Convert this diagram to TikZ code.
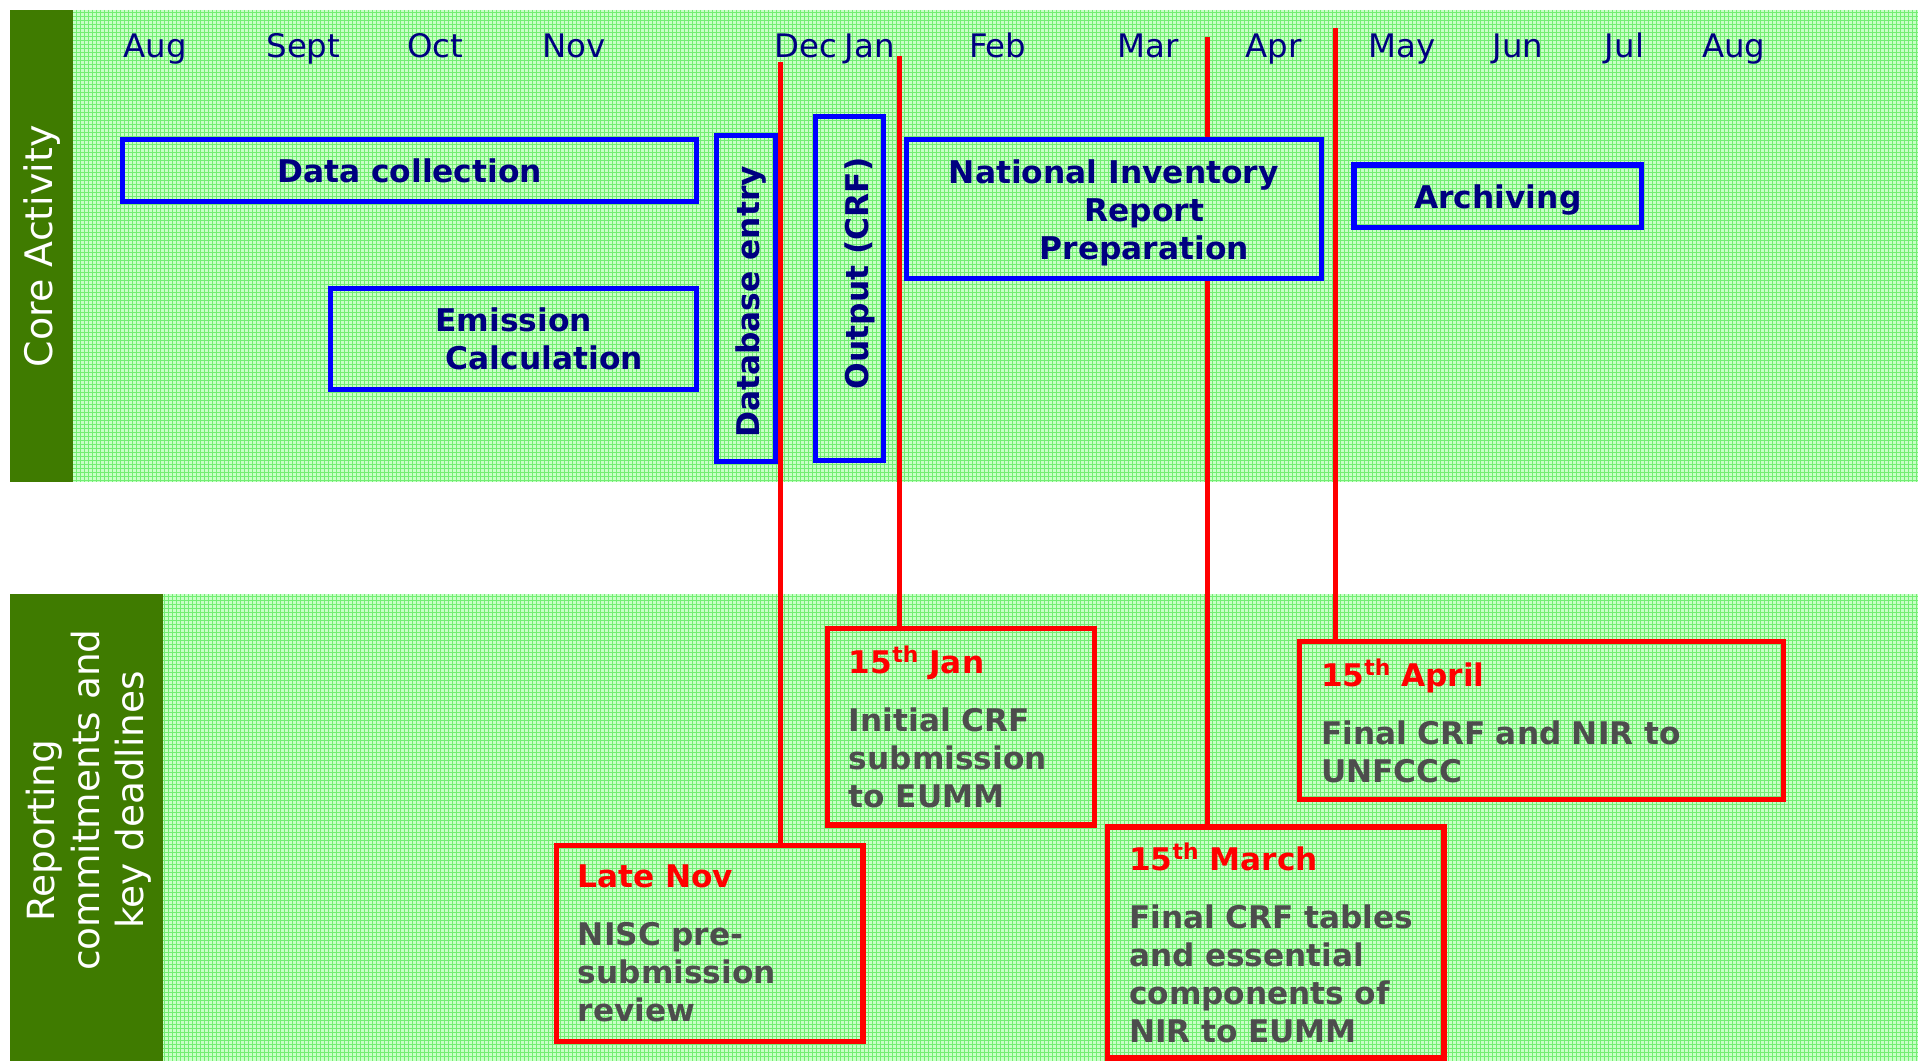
\documentclass[tikz,border=0pt]{standalone}
\usepackage{fontspec}
\setmainfont{DejaVu Sans}
\definecolor{cellgreen}{RGB}{200,255,198}
\definecolor{gridgreen}{RGB}{115,238,115}
\definecolor{sidegreen}{RGB}{63,123,0}
\definecolor{navytext}{RGB}{0,0,128}
\definecolor{boxblue}{RGB}{0,0,255}
\definecolor{dlred}{RGB}{255,0,0}
\definecolor{bodygray}{RGB}{77,77,77}
\begin{document}
\begin{tikzpicture}[x=1pt,y=-1pt,
  month/.style={text=navytext, font=\fontsize{26.5}{31}\selectfont, anchor=base, inner sep=0pt},
  bluebox/.style={draw=boxblue, line width=4.2pt, text=navytext, font=\fontsize{25.6}{31}\selectfont\bfseries, inner sep=2pt},
  redbox/.style={draw=dlred, line width=4.4pt, text=bodygray, font=\fontsize{25.5}{31}\selectfont\bfseries, inner xsep=17.5pt, inner ysep=2pt, align=left},
  deadline/.style={draw=dlred, line width=4.2pt},
  sidetext/.style={text=white, rotate=90, inner sep=0pt},
  gridline/.style={draw=gridgreen, line width=0.82pt}
]
\useasboundingbox (0,0) rectangle (1568,867);
\fill[white] (0,0) rectangle (1568,867);
% panels
\fill[cellgreen] (59.5,8) rectangle (1568,394);
\fill[cellgreen] (133,485.6) rectangle (1568,867);
\draw[gridline] foreach \k in {19,...,479} {(\k*3.2701+0.409,8) -- (\k*3.2701+0.409,394)};
\draw[gridline] foreach \k in {3,...,120} {(59.5,\k*3.2701+0.409) -- (1568,\k*3.2701+0.409)};
\draw[gridline] foreach \k in {41,...,479} {(\k*3.2701+0.409,485.6) -- (\k*3.2701+0.409,867)};
\draw[gridline] foreach \k in {149,...,264} {(133,\k*3.2701+0.409) -- (1568,\k*3.2701+0.409)};
\fill[sidegreen] (8,8) rectangle (59.5,394);
\fill[sidegreen] (8,485.6) rectangle (133,867);
\node[sidetext, font=\fontsize{31}{36}\selectfont] (core) at (34.6,201.3) {Core Activity};
\node[sidetext, align=center, font=\fontsize{30.6}{36.5}\selectfont] (report) at (72.7,654) {Reporting\hspace*{50pt}\mbox{}\\commitments and\\key deadlines};
% months
\node[month] (m1) at (126.7,47) {Aug};
\node[month] (m2) at (248,47) {Sept};
\node[month] (m3) at (356,47) {Oct};
\node[month] (m4) at (469,47) {Nov};
\node[month] (m5) at (659,47) {Dec};
\node[month] (m6) at (711,47) {Jan};
\node[month] (m7) at (815.7,47) {Feb};
\node[month] (m8) at (938.3,47) {Mar};
\node[month] (m9) at (1041,47) {Apr};
\node[month] (m10) at (1146,47) {May};
\node[month] (m11) at (1241,47) {Jun};
\node[month] (m12) at (1328,47) {Jul};
\node[month] (m13) at (1417.3,47) {Aug};
% core activity boxes
\node[bluebox, minimum width=469.8pt, minimum height=50.3pt, text depth=0pt] (dc) at (334.8,139.5) {Data collection};
\node[bluebox, minimum width=299.3pt, minimum height=82.6pt, align=center] (ec) at (420,277.3) {Emission\\\mbox{}\hspace*{50pt}Calculation};
\node[bluebox, rotate=90, minimum width=266.4pt, minimum height=48.4pt, text height=26pt, text depth=4.4pt] (db) at (610,244.2) {Database entry\hspace*{5.4pt}\mbox{}};
\node[bluebox, rotate=90, minimum width=281.6pt, minimum height=55.6pt, text height=35pt, text depth=4.2pt] (out) at (694.6,235.9) {\mbox{}\hspace*{24.8pt}Output (CRF)};
\node[bluebox, minimum width=339pt, minimum height=113.5pt, align=center] (nir) at (910.5,170.8) {\rule{0pt}{26.5pt}National Inventory\\\mbox{}\hspace*{50pt}Report\\\mbox{}\hspace*{50pt}Preparation};
\node[bluebox, minimum width=235.1pt, minimum height=51.1pt, text depth=0pt] (arch) at (1224.5,160.4) {Archiving};
% deadline boxes
\node[redbox, minimum width=250.6pt, minimum height=160.4pt, text width=215.6pt] (nov) at (580.3,771.2) {\textcolor{dlred}{Late~Nov}\\[16.5pt]NISC~pre-\\submission\\review};
\node[redbox, minimum width=218.3pt, minimum height=160.7pt, text width=183.3pt] (jan) at (785.7,594.2) {\textcolor{dlred}{15\textsuperscript{th}~Jan}\\[16.5pt]Initial~CRF\\submission\\to~EUMM};
\node[redbox, minimum width=275pt, minimum height=189pt, text width=240pt] (mar) at (1043.1,770.5) {\textcolor{dlred}{15\textsuperscript{th}~March}\\[16.5pt]Final~CRF~tables\\and~essential\\components~of\\NIR~to~EUMM};
\node[redbox, minimum width=395.7pt, minimum height=129.6pt, text width=360.7pt] (apr) at (1260.3,589) {\textcolor{dlred}{15\textsuperscript{th}~April}\\[16.5pt]Final~CRF~and~NIR~to\\UNFCCC};
% deadline lines
\coordinate (decTop) at (638.4,50.4);
\coordinate (janTop) at (735.5,45.5);
\coordinate (marTop) at (987.3,30.5);
\coordinate (aprTop) at (1091.7,23.2);
\draw[deadline] (decTop) -- (decTop |- nov.north);
\draw[deadline] (janTop) -- (janTop |- jan.north);
\draw[deadline] (marTop) -- (marTop |- nir.north);
\draw[deadline] (marTop |- nir.south) -- (marTop |- mar.north);
\draw[deadline] (aprTop) -- (aprTop |- apr.north);
\end{tikzpicture}
\end{document}
